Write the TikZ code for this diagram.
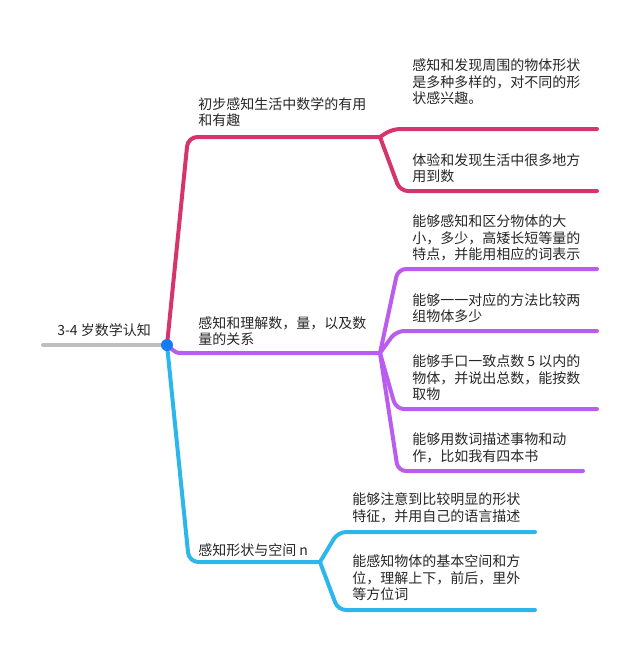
\documentclass[tikz,border=0pt]{standalone}
\usepackage{fontspec}
\newfontfamily\cjk{Noto Sans CJK SC}
\usepackage{xcolor}
\usepackage{tikz}
\usetikzlibrary{calc}
\definecolor{pinkline}{RGB}{214,52,108}
\definecolor{purpline}{RGB}{186,92,238}
\definecolor{blueline}{RGB}{44,182,236}
\definecolor{hubdot}{RGB}{22,122,240}
\definecolor{greyline}{RGB}{190,190,190}

\begin{document}
\begin{tikzpicture}[x=0.75pt,y=-0.75pt,line cap=round,line join=round]
	\tikzstyle{txt}=[anchor=west, inner sep=0pt, align=left, text=black!85, font=\cjk\fontsize{10.5}{12.4}\selectfont]
	\tikzstyle{mainbr}=[line width=3pt, rounded corners=7pt]
	\tikzstyle{subbr}=[line width=3pt, rounded corners=6pt]
	\useasboundingbox (0,0) rectangle (640,654);
	% split points and line ends
	\coordinate (g0)  at (43,345);
	\coordinate (hub) at (167,345);
	\coordinate (kA)  at (380,137);
	\coordinate (kB)  at (380,353);
	\coordinate (kC)  at (320,562);
	\coordinate (a1)  at (597,129);
	\coordinate (a2)  at (597,191);
	\coordinate (b1)  at (597,269);
	\coordinate (b2)  at (597,331);
	\coordinate (b3)  at (597,409);
	\coordinate (b4)  at (583,471);
	\coordinate (c1)  at (535,532);
	\coordinate (c2)  at (535,610);
	% texts
	\node[txt] (root) at (57,330)  {3-4 岁数学认知};
	\node[txt] (A)    at (198,112) {初步感知生活中数学的有用\\和有趣};
	\node[txt] (A1)   at (412,82)  {感知和发现周围的物体形状\\是多种多样的，对不同的形\\状感兴趣。};
	\node[txt] (A2)   at (412,168) {体验和发现生活中很多地方\\用到数};
	\node[txt] (B)    at (198,331) {感知和理解数，量，以及数\\量的关系};
	\node[txt] (B1)   at (412,238) {能够感知和区分物体的大\\小，多少，高矮长短等量的\\特点，并能用相应的词表示};
	\node[txt] (B2)   at (412,308) {能够一一对应的方法比较两\\组物体多少};
	\node[txt] (B3)   at (412,378) {能够手口一致点数 5 以内的\\物体，并说出总数，能按数\\取物};
	\node[txt] (B4)   at (412,448) {能够用数词描述事物和动\\作，比如我有四本书};
	\node[txt] (C)    at (198,550) {感知形状与空间 n};
	\node[txt] (C1)   at (352,508) {能够注意到比较明显的形状\\特征，并用自己的语言描述};
	\node[txt] (C2)   at (352,578) {能感知物体的基本空间和方\\位，理解上下，前后，里外\\等方位词};
	% branches
	\draw[greyline, line width=3pt] (g0) -- (hub);
	\draw[mainbr, pinkline] (hub) -- (188,137) -- (kA);
	\draw[mainbr, purpline] (hub) .. controls (176,353) .. (192,353) -- (kB);
	\draw[mainbr, blueline] (hub) -- (189,562) -- (kC);
	\draw[subbr, pinkline] (kA) -- (392,129) -- (a1);
	\draw[subbr, pinkline] (kA) -- (400,191) -- (a2);
	\draw[subbr, purpline] (kB) -- (398,269) -- (b1);
	\draw[subbr, purpline] (kB) -- (396,331) -- (b2);
	\draw[subbr, purpline] (kB) -- (396,409) -- (b3);
	\draw[subbr, purpline] (kB) -- (398,471) -- (b4);
	\draw[subbr, blueline] (kC) -- (338,532) -- (c1);
	\draw[subbr, blueline] (kC) -- (338,610) -- (c2);
	\fill[hubdot] (hub) circle (4.5pt);
\end{tikzpicture}
\end{document}
